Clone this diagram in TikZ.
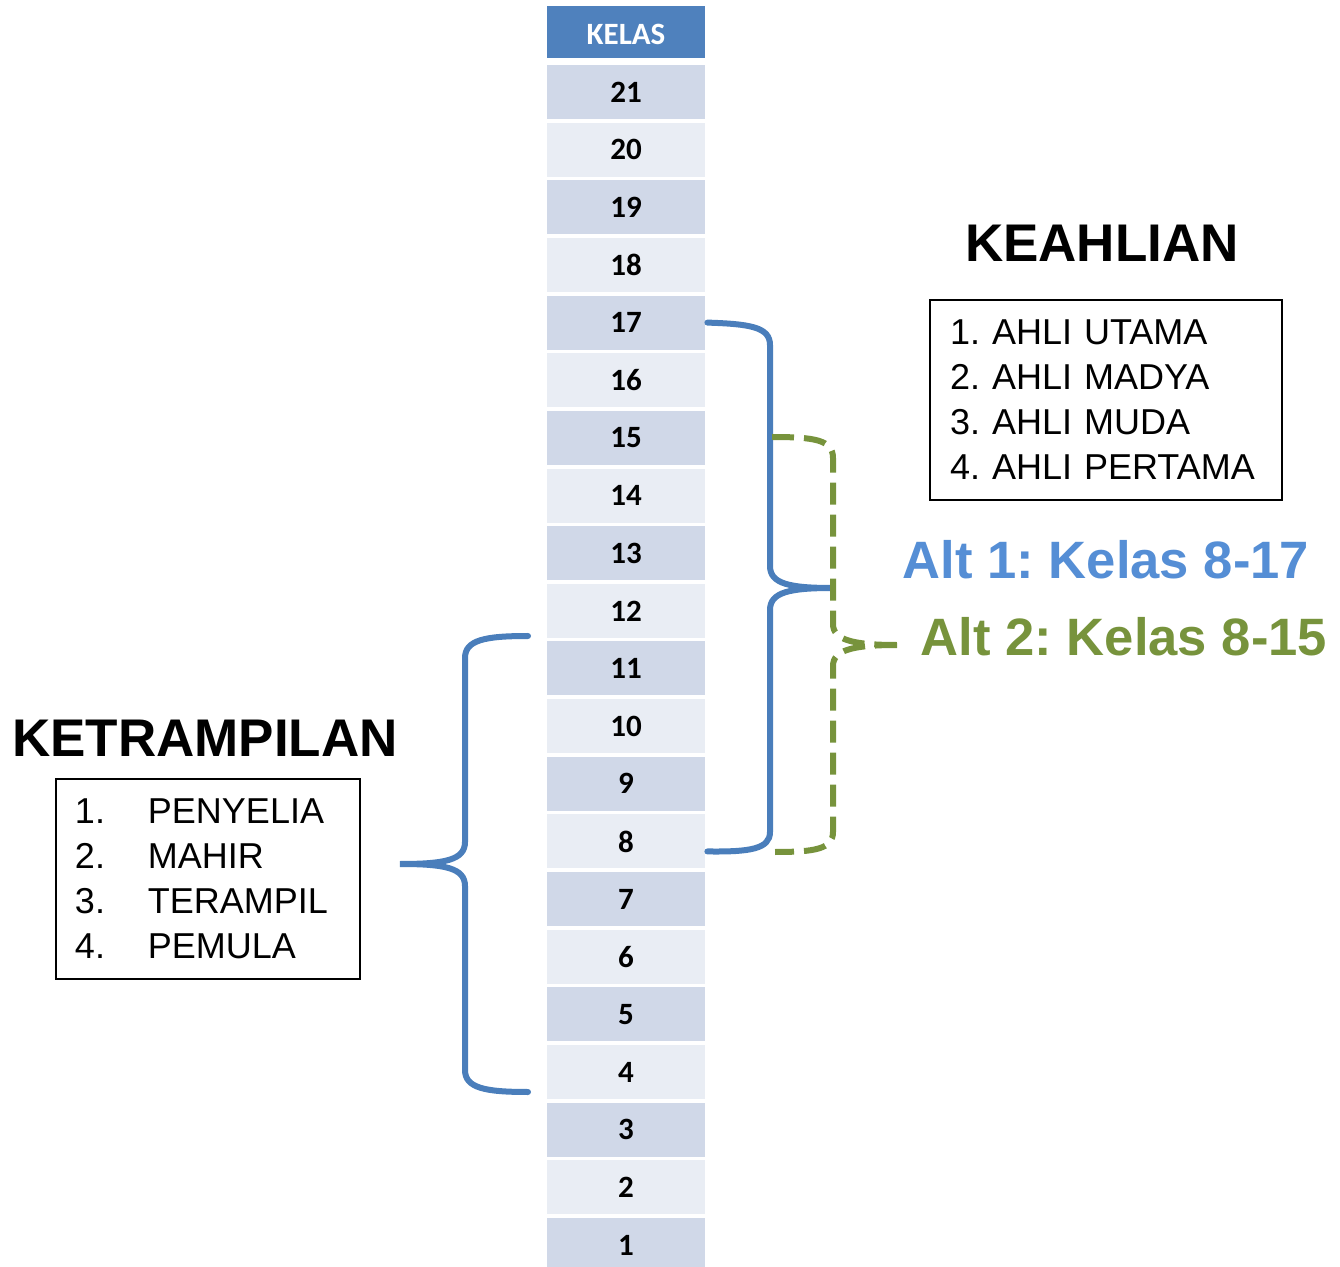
\documentclass[tikz,border=0pt]{standalone}
\usepackage{fontspec}
\setmainfont{Liberation Sans}
\newfontfamily\calibrifont{Carlito}
\usetikzlibrary{calc}
\frenchspacing

\definecolor{hdrblue}{HTML}{4F81BD}
\definecolor{rowdark}{HTML}{D0D8E8}
\definecolor{rowlight}{HTML}{E9EDF4}
\definecolor{braceblue}{HTML}{4A7EBB}
\definecolor{altblue}{HTML}{558ED5}
\definecolor{altgreen}{HTML}{77933C}

\begin{document}
\begin{tikzpicture}[
    x=0.5pt, y=-0.5pt,
    kelasrow/.style={rectangle, minimum width=79pt, minimum height=27pt, inner sep=0pt,
                     font=\calibrifont\bfseries\fontsize{15.5}{18}\selectfont},
    header/.style={kelasrow, fill=hdrblue, text=white, minimum height=26pt, text height=13pt},
    bluebrace/.style={draw=braceblue, line width=3pt, line cap=round},
    greenbrace/.style={draw=altgreen, line width=3pt, dash pattern=on 11pt off 5pt},
    title/.style={font=\bfseries\fontsize{26.5}{30}\selectfont},
    listbox/.style={draw=black, line width=1pt, align=left, minimum height=100pt,
                    font=\fontsize{18}{22.5}\selectfont},
    alttext/.style={font=\bfseries\fontsize{26.3}{30}\selectfont}
]
    \useasboundingbox (0,0) rectangle (1340,1267);

    % Kelas column
    \node[header] (kelas) at (626,32) {KELAS};
    \foreach \i in {1,...,21} {
        \pgfmathsetmacro\rowy{92+(21-\i)*57.65}
        \ifodd\i \def\rowfill{rowdark}\else \def\rowfill{rowlight}\fi
        \node[kelasrow, fill=\rowfill] (k\i) at (626,\rowy) {\i};
    }

    % Keahlian
    \node[title] (keahlian) at (1102,243) {KEAHLIAN};
    \node[listbox, text width=156pt, inner xsep=10pt] (ahli) at (1106,400)
        {1. AHLI UTAMA\\ 2. AHLI MADYA\\ 3. AHLI MUDA\\ 4. AHLI PERTAMA};

    % Ketrampilan
    \node[title] (ketrampilan) at (205,738) {KETRAMPILAN};
    \node[listbox, text width=133pt, inner xsep=9.5pt] (trampil) at (208,878.5)
        {\makebox[36.5pt][l]{1.}PENYELIA\\
         \makebox[36.5pt][l]{2.}MAHIR\\
         \makebox[36.5pt][l]{3.}TERAMPIL\\
         \makebox[36.5pt][l]{4.}PEMULA};

    % Alternatives
    \node[alttext, text=altblue] (alt1) at (1106,560) {Alt 1: Kelas 8-17};
    \node[alttext, text=altgreen] (alt2) at (1124,637) {Alt 2: Kelas 8-15};

    % Brace ends
    \coordinate (b1top) at ([xshift=1pt]k17.east);
    \coordinate (b1bot) at ([xshift=1pt, yshift=-5pt]k8.east);
    \coordinate (b1tip) at (833,588);
    \coordinate (g1top) at (772,437);
    \coordinate (g1bot) at (775,852);
    \coordinate (g1tip) at (897,645);
    \coordinate (l1top) at (528,636);
    \coordinate (l1bot) at (528,1092);
    \coordinate (l1tip) at (400,864);

    % Alt 1 brace
    \draw[bluebrace] (b1top) .. controls (750,324) and (770,327) .. (770,345)
        -- (770,566) .. controls (770,584) and (790,588) .. (b1tip)
        .. controls (790,588) and (770,592) .. (770,610)
        -- (770,832) .. controls (770,849) and (750,852) .. (b1bot);

    % Alt 2 brace
    \draw[greenbrace] (g1top) .. controls (815,437) and (833,440) .. (833,458)
        -- (833,624) .. controls (833,640) and (853,645) .. (g1tip);
    \draw[greenbrace] (g1tip) .. controls (853,645) and (833,650) .. (833,666)
        -- (833,832) .. controls (833,849) and (815,852) .. (g1bot);

    % Ketrampilan brace
    \draw[bluebrace] (l1top) .. controls (485,636) and (465,640) .. (465,658)
        -- (465,842) .. controls (465,860) and (445,864) .. (l1tip)
        .. controls (445,864) and (465,868) .. (465,886)
        -- (465,1070) .. controls (465,1088) and (485,1092) .. (l1bot);

\end{tikzpicture}
\end{document}
